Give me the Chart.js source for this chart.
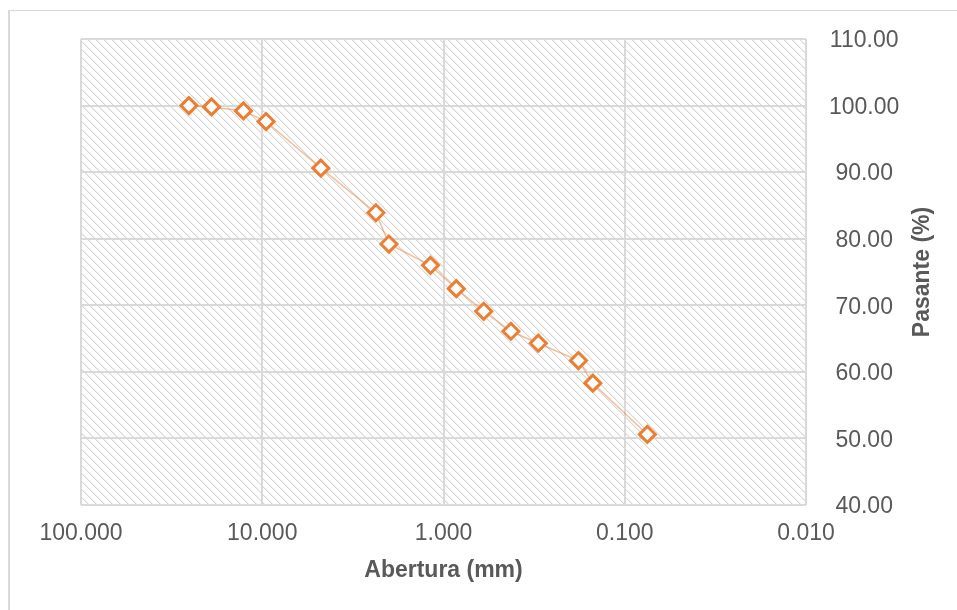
<!DOCTYPE html>
<html>
<head>
<meta charset="utf-8">
<script src="https://cdn.jsdelivr.net/npm/chart.js@4"></script>
<style>
  body { margin: 0; background: #fff; }
  #wrap { position: relative; width: 957px; height: 610px; overflow: hidden; }
  #frame { position: absolute; left: 8px; top: 10px; width: 1000px; height: 700px;
           border-left: 2px solid #d9d9d9; border-top: 1px solid #d9d9d9; }
  canvas { position: absolute; left: 0; top: 0; }
</style>
</head>
<body>
<div id="wrap">
  <div id="frame"></div>
  <canvas id="myChart" width="957" height="610"></canvas>
</div>
<script>
const ctx = document.getElementById('myChart').getContext('2d');

// Sieve openings (mm) and percent passing
const aberturas = [25.4, 19.05, 12.7, 9.525, 4.75, 2.36, 2.0, 1.18, 0.85, 0.6, 0.425, 0.3, 0.18, 0.15, 0.075];
const pasante = [100.0, 99.8, 99.2, 97.6, 90.6, 83.9, 79.2, 76.0, 72.5, 69.1, 66.1, 64.3, 61.7, 58.3, 50.6];

// Axis ticks
const xTicks = [100, 10, 1, 0.1, 0.01];
const yTicks = [40, 50, 60, 70, 80, 90, 100, 110];

const gridColor = '#d9d9d9';
const textColor = '#595959';
const orange = '#ED7D31';

// Diagonal hatch used as plot area fill
function makeHatch() {
    const c = document.createElement('canvas');
    c.width = 8; c.height = 8;
    const g = c.getContext('2d');
    g.fillStyle = '#ffffff';
    g.fillRect(0, 0, 8, 8);
    for (let i = 0; i < 8; i++) {
        g.fillStyle = '#d8d8d8';
        g.fillRect(i, i, 1, 1);
        g.fillStyle = '#ececec';
        g.fillRect((i + 1) % 8, i, 1, 1);
    }
    return g.createPattern(c, 'repeat');
}

const hatchPlugin = {
    id: 'hatch',
    beforeDraw(chart) {
        const a = chart.chartArea;
        const c = chart.ctx;
        c.save();
        c.fillStyle = makeHatch();
        c.fillRect(a.left, a.top, a.right - a.left, a.bottom - a.top);
        c.restore();
    }
};

// Right axis title reading bottom-to-top, as in the original
const yTitlePlugin = {
    id: 'yTitle',
    afterDraw(chart) {
        const s = chart.scales.y;
        const c = chart.ctx;
        c.save();
        c.translate(s.right - 34, (chart.chartArea.top + chart.chartArea.bottom) / 2);
        c.rotate(-Math.PI / 2);
        c.font = 'bold 23px "Liberation Sans", Arial, sans-serif';
        c.fillStyle = textColor;
        c.textAlign = 'center';
        c.textBaseline = 'middle';
        c.fillText('Pasante (%)', 0, 0);
        c.restore();
    }
};

const points = aberturas.map((v, i) => ({ x: v, y: pasante[i] }));

new Chart(ctx, {
    type: 'scatter',
    data: {
        datasets: [{
            data: points,
            showLine: true,
            borderColor: 'rgba(237,125,49,0.5)',
            borderWidth: 1.5,
            pointStyle: 'rectRot',
            pointRadius: 8,
            pointBorderWidth: 3,
            pointBorderColor: orange,
            pointBackgroundColor: '#ffffff',
            tension: 0
        }]
    },
    options: {
        responsive: false,
        animation: false,
        layout: { padding: { left: 81, top: 39, right: 0, bottom: 0 } },
        plugins: {
            legend: { display: false },
            tooltip: { enabled: false }
        },
        scales: {
            x: {
                type: 'logarithmic',
                position: 'bottom',
                reverse: true,
                min: 0.01,
                max: 100,
                afterBuildTicks(scale) {
                    scale.ticks = xTicks.map(v => ({ value: v }));
                },
                afterFit(scale) { scale.height = 105; },
                grid: { color: gridColor, lineWidth: 2, drawTicks: false },
                border: { display: false },
                ticks: {
                    padding: 15,
                    color: textColor,
                    font: { family: '"Liberation Sans", Arial, sans-serif', size: 23 },
                    maxRotation: 0,
                    callback: v => Number(v).toFixed(3)
                },
                title: {
                    display: true,
                    text: 'Abertura (mm)',
                    color: textColor,
                    font: { family: '"Liberation Sans", Arial, sans-serif', size: 23, weight: 'bold' },
                    padding: { top: 0, bottom: 26 }
                }
            },
            y: {
                position: 'right',
                min: 40,
                max: 110,
                afterBuildTicks(scale) {
                    scale.ticks = yTicks.map(v => ({ value: v }));
                },
                afterFit(scale) { scale.width = 151; },
                grid: { color: gridColor, lineWidth: 2, drawTicks: false },
                border: { display: false },
                ticks: {
                    padding: 23,
                    labelOffset: 2,
                    crossAlign: 'center',
                    color: textColor,
                    font: { family: '"Liberation Sans", Arial, sans-serif', size: 23 },
                    callback: v => Number(v).toFixed(2)
                }
            }
        }
    },
    plugins: [hatchPlugin, yTitlePlugin]
});
</script>
</body>
</html>
